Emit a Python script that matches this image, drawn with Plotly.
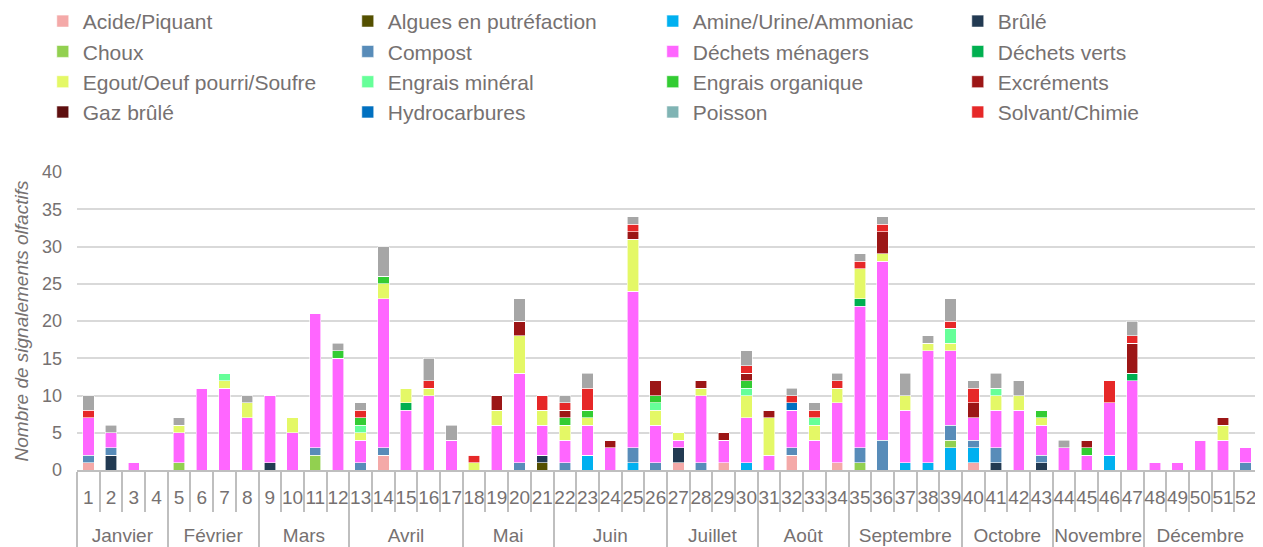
import plotly.graph_objects as go

# semaines et mois (axe x à deux niveaux)
semaines = [str(i) for i in range(1, 53)]
mois_noms = ["Janvier", "Février", "Mars", "Avril", "Mai", "Juin", "Juillet",
             "Août", "Septembre", "Octobre", "Novembre", "Décembre"]
mois_nb_semaines = [4, 4, 4, 5, 4, 5, 4, 4, 5, 4, 4, 5]
# "<br>" devant le mois : descend le libellé d'une ligne sous les numéros de semaine
mois = ["<br>" + m for m, n in zip(mois_noms, mois_nb_semaines) for _ in range(n)]

# nombre de signalements par semaine, par type d'odeur
acide       = [1,0,0,0, 0,0,0,0, 0,0,0,0, 0,2,0,0,0, 0,0,0,0, 0,0,0,0,0, 1,0,1,0, 0,2,0,1, 0,0,0,0,0, 1,0,0,0, 0,0,0,0, 0,0,0,0,0]
algues      = [0,0,0,0, 0,0,0,0, 0,0,0,0, 0,0,0,0,0, 0,0,0,1, 0,0,0,0,0, 0,0,0,0, 0,0,0,0, 0,0,0,0,0, 0,0,0,0, 0,0,0,0, 0,0,0,0,0]
amine       = [0,0,0,0, 0,0,0,0, 0,0,0,0, 0,0,0,0,0, 0,0,0,0, 0,2,0,1,0, 0,0,0,1, 0,0,0,0, 0,0,1,1,3, 2,0,0,0, 0,0,2,0, 0,0,0,0,0]
brule       = [0,2,0,0, 0,0,0,0, 1,0,0,0, 0,0,0,0,0, 0,0,0,1, 0,0,0,0,0, 2,0,0,0, 0,0,0,0, 0,0,0,0,0, 0,1,0,1, 0,0,0,0, 0,0,0,0,0]
choux       = [0,0,0,0, 1,0,0,0, 0,0,2,0, 0,0,0,0,0, 0,0,0,0, 0,0,0,0,0, 0,0,0,0, 0,0,0,0, 1,0,0,0,1, 0,0,0,0, 0,0,0,0, 0,0,0,0,0]
compost     = [1,1,0,0, 0,0,0,0, 0,0,1,0, 1,1,0,0,0, 0,0,1,0, 1,0,0,2,1, 0,1,0,0, 0,1,0,0, 2,4,0,0,2, 1,2,0,1, 0,0,0,0, 0,0,0,0,1]
menagers    = [5,2,1,0, 4,11,11,7, 9,5,18,15, 3,20,8,10,4, 0,6,12,4, 3,4,3,21,5, 1,9,3,6, 2,5,4,8, 19,24,7,15,10, 3,5,8,4, 3,2,7,12, 1,1,4,4,2]
verts       = [0,0,0,0, 0,0,0,0, 0,0,0,0, 0,0,1,0,0, 0,0,0,0, 0,0,0,0,0, 0,0,0,0, 0,0,0,0, 1,0,0,0,0, 0,0,0,0, 0,0,0,1, 0,0,0,0,0]
egout       = [0,0,0,0, 1,0,1,2, 0,2,0,0, 1,2,2,1,0, 1,2,5,2, 2,1,0,7,2, 1,1,0,3, 5,0,2,2, 4,1,2,1,1, 0,2,2,1, 0,0,0,0, 0,0,0,2,0]
mineral     = [0,0,0,0, 0,0,1,0, 0,0,0,0, 1,0,0,0,0, 0,0,0,0, 0,0,0,0,1, 0,0,0,1, 0,0,1,0, 0,0,0,0,2, 0,1,0,0, 0,0,0,0, 0,0,0,0,0]
organique   = [0,0,0,0, 0,0,0,0, 0,0,0,1, 1,1,0,0,0, 0,0,0,0, 1,1,0,0,1, 0,0,0,1, 0,0,0,0, 0,0,0,0,0, 0,0,0,1, 0,1,0,0, 0,0,0,0,0]
excrements  = [0,0,0,0, 0,0,0,0, 0,0,0,0, 0,0,0,0,0, 0,2,2,0, 1,0,1,1,2, 0,1,1,1, 1,0,0,0, 0,3,0,0,0, 2,0,0,0, 0,1,0,4, 0,0,0,1,0]
gaz         = [0] * 52
hydro       = [0,0,0,0, 0,0,0,0, 0,0,0,0, 0,0,0,0,0, 0,0,0,0, 0,0,0,0,0, 0,0,0,0, 0,1,0,0, 0,0,0,0,0, 0,0,0,0, 0,0,0,0, 0,0,0,0,0]
poisson     = [0] * 52
solvant     = [1,0,0,0, 0,0,0,0, 0,0,0,0, 1,0,0,1,0, 1,0,0,2, 1,3,0,1,0, 0,0,0,1, 0,1,1,1, 1,1,0,0,1, 2,0,0,0, 0,0,3,1, 0,0,0,0,0]
autre       = [2,1,0,0, 1,0,0,1, 0,0,0,1, 1,4,0,3,2, 0,0,3,0, 1,2,0,1,0, 0,0,0,2, 0,1,1,1, 1,1,3,1,3, 1,2,2,0, 1,0,0,2, 0,0,0,0,0]

series = [
    ("Acide/Piquant", acide, "#F4A9A8"),
    ("Algues en putréfaction", algues, "#545000"),
    ("Amine/Urine/Ammoniac", amine, "#00B0F0"),
    ("Brûlé", brule, "#223A52"),
    ("Choux", choux, "#92D050"),
    ("Compost", compost, "#588CB9"),
    ("Déchets ménagers", menagers, "#FF66FF"),
    ("Déchets verts", verts, "#00B050"),
    ("Egout/Oeuf pourri/Soufre", egout, "#E4F866"),
    ("Engrais minéral", mineral, "#66FF99"),
    ("Engrais organique", organique, "#33CC33"),
    ("Excréments", excrements, "#9C1616"),
    ("Gaz brûlé", gaz, "#5E0F0F"),
    ("Hydrocarbures", hydro, "#0070C0"),
    ("Poisson", poisson, "#80B4B4"),
    ("Solvant/Chimie", solvant, "#E62828"),
]

police = "Liberation Sans, Arial"
gris_txt = "#767171"

fig = go.Figure()
for nom, vals, coul in series:
    fig.add_trace(go.Bar(x=[mois, semaines], y=vals, name=nom,
                         marker=dict(color=coul, line=dict(color="white", width=0.6))))
fig.add_trace(go.Bar(x=[mois, semaines], y=autre, name="Autre", showlegend=False,
                     marker=dict(color="#A6A6A6", line=dict(color="white", width=0.6))))

# la page html ajoute une marge de 8 px autour du graphique
fig.update_layout(
    barmode="stack",
    bargap=0.5,
    width=1255, height=539,
    margin=dict(l=69, r=6, t=164, b=77, autoexpand=False),
    paper_bgcolor="white", plot_bgcolor="white",
    font=dict(family=police, color=gris_txt, size=19),
    legend=dict(orientation="h", xref="paper", yref="paper",
                x=-0.029, y=1.574, xanchor="left", yanchor="top",
                entrywidth=260, entrywidthmode="pixels",
                font=dict(size=21, family=police, color=gris_txt),
                itemclick=False, traceorder="normal"),
)
fig.update_yaxes(range=[0, 40], dtick=5, showgrid=True, gridcolor="#D9D9D9", gridwidth=1.5,
                 zeroline=False, showline=False, ticks="",
                 ticklabelstandoff=14,
                 tickfont=dict(size=18, color=gris_txt),
                 title=dict(text="Nombre de signalements olfactifs", standoff=8,
                            font=dict(size=19, style="italic", color=gris_txt, family=police)))
fig.update_xaxes(type="multicategory", showline=True, linecolor="#BFBFBF", linewidth=1.5,
                 tickmode="linear", dtick=1,
                 ticks="outside", ticklen=40, tickcolor="#BFBFBF", tickwidth=1.5,
                 tickangle=0, ticklabelstandoff=9,
                 showdividers=True, dividercolor="#BFBFBF", dividerwidth=1.5,
                 tickfont=dict(size=19, color=gris_txt))

fig.write_html("out.html")
